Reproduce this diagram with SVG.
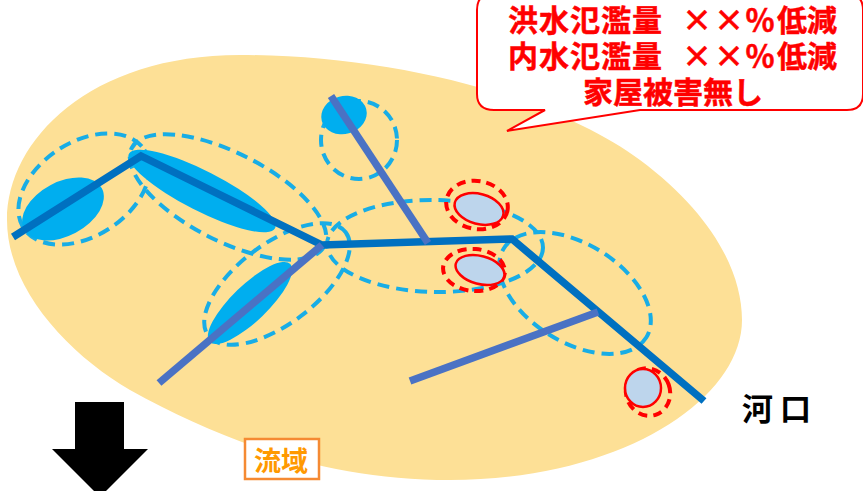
<svg xmlns="http://www.w3.org/2000/svg" width="863" height="491" viewBox="0 0 863 491">
<style>
.cjk{font-family:"Noto Sans CJK JP","Noto Sans CJK SC",sans-serif;font-weight:700}
.red{fill:#f00;stroke:#f00;stroke-width:.5;font-size:30px}
.zone{fill:none;stroke:#18ade6;stroke-width:4;stroke-dasharray:12 7}
.flood{fill:#00aeef}
.risk{fill:#bdd5ec;stroke:#f00;stroke-width:2.5}
.riskzone{fill:none;stroke:#f00;stroke-width:4;stroke-dasharray:9 6}
.main{fill:none;stroke:#0070c0;stroke-width:7.5}
.trib{fill:none;stroke:#4a72c4;stroke-width:7.5}
</style>
<g id="basin"><path d="M7 220C7 140 90 55 240 55C400 55 560 100 640 160C710 212 742 270 742 320C742 400 620 480 450 480C330 480 230 445 130 390C70 355 7 290 7 220Z" fill="#fde096"/></g>
<g id="zones">
<ellipse class="zone" cx="84" cy="189" rx="72" ry="47" transform="rotate(-33 84 189)"/>
<ellipse class="zone" cx="228" cy="197" rx="108" ry="44" transform="rotate(27 228 197)"/>
<ellipse class="zone" cx="277" cy="284" rx="86" ry="40" transform="rotate(-37 277 284)"/>
<ellipse class="zone" cx="359" cy="140" rx="38" ry="39"/>
<ellipse class="zone" cx="435" cy="246" rx="108" ry="46" transform="rotate(1 435 246)"/>
<ellipse class="zone" cx="575" cy="293" rx="84" ry="49" transform="rotate(32 575 293)"/>
</g>
<g id="flood-areas">
<ellipse class="flood" cx="63" cy="209" rx="44" ry="27" transform="rotate(-28 63 209)"/>
<ellipse class="flood" cx="202" cy="191" rx="82" ry="20" transform="rotate(27 202 191)"/>
<ellipse class="flood" cx="250" cy="303" rx="56" ry="18" transform="rotate(-44 250 303)"/>
<ellipse class="flood" cx="344" cy="115" rx="23" ry="19" transform="rotate(-15 344 115)"/>
</g>
<g id="connectors">
<path class="main" d="M13 237L141 156L322 245L512 239L704 401"/>
<path class="trib" d="M159 383L322 245"/>
<path class="trib" d="M331 96L428 243"/>
<path class="trib" d="M410 381L598 312"/>
</g>
<g id="risk-1"><ellipse class="riskzone" cx="477" cy="205" rx="31" ry="24" transform="rotate(10 477 205)"/><ellipse class="risk" cx="479" cy="209" rx="25" ry="15" transform="rotate(15 479 209)"/></g>
<g id="risk-2"><ellipse class="riskzone" cx="474" cy="270" rx="31" ry="21" transform="rotate(5 474 270)"/><ellipse class="risk" cx="480" cy="270" rx="25" ry="14" transform="rotate(15 480 270)"/></g>
<g id="risk-3"><ellipse class="riskzone" cx="648" cy="392" rx="22" ry="24" transform="rotate(-20 648 392)"/><ellipse class="risk" cx="643" cy="388" rx="18" ry="19"/></g>
<g id="callout"><path d="M492 -6H847Q863 -6 863 10V94Q863 110 847 110H640L507 131L545 110H494Q477 110 477 94V10Q477 -6 492 -6Z" fill="#fff" stroke="#f00" stroke-width="2"/>
<text class="cjk red" x="508 539 570 601 632 682 714 745 777 807" y="31">洪水氾濫量××％低減</text>
<text class="cjk red" x="508 539 570 601 632 682 714 745 777 807" y="67">内水氾濫量××％低減</text>
<text class="cjk red" x="583 613 643 673 703 733" y="103">家屋被害無し</text></g>
<g id="estuary-label"><text class="cjk" x="742" y="420" font-size="31" letter-spacing="7" fill="#000">河口</text></g>
<g id="basin-label"><rect x="245" y="439" width="74" height="40" fill="#fff" stroke="#f58a33" stroke-width="2.5"/><text class="cjk" x="281" y="471" font-size="27" text-anchor="middle" fill="#f90">流域</text></g>
<g id="flow-arrow"><path d="M75 402H124V449H148L100 497L52 449H75Z" fill="#000"/></g>
</svg>
